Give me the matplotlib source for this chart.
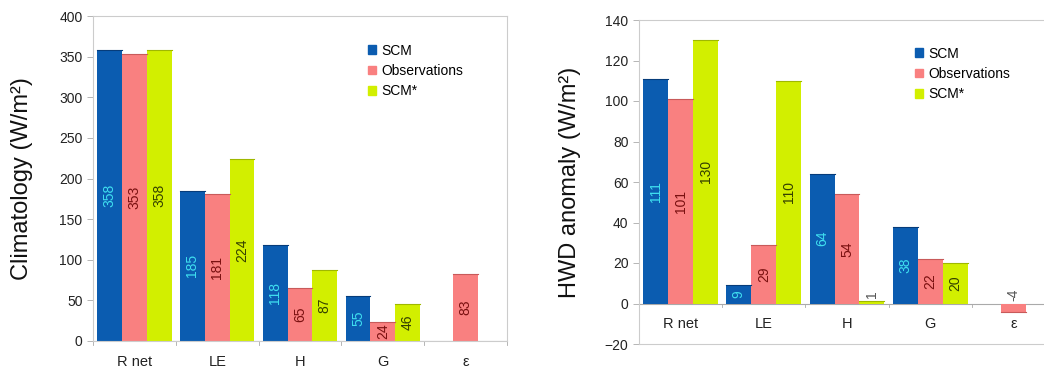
import numpy as np
import matplotlib.pyplot as plt
from matplotlib.patches import Patch

plt.rcParams['font.family'] = ['Liberation Sans', 'DejaVu Sans']

categories = ['R net', 'LE', 'H', 'G', 'ε']
series = ['SCM', 'Observations', 'SCM*']

clim_scm = [358, 185, 118, 55, np.nan]
clim_obs = [353, 181, 65, 24, 83]
clim_star = [358, 224, 87, 46, np.nan]

hwd_scm = [111, 9, 64, 38, np.nan]
hwd_obs = [101, 29, 54, 22, -4]
hwd_star = [130, 110, 1, 20, np.nan]

colors = ['#0b5cb0', '#f98080', '#d2ef00']
label_colors = ['#3fe0f0', '#7a1010', '#344000']
edge_colors = ['#063c7a', '#c85a5a', '#9fb800']

fig = plt.figure(figsize=(10.44, 3.69), dpi=100)
ax1 = fig.add_axes([93/1044, 1-341/369, 414/1044, 325/369])
ax2 = fig.add_axes([639/1044, 1-344/369, 416/1044, 324/369])


def draw(ax, data, ylim, step, ylabel, small):
    x = np.arange(len(categories))
    w = 0.3
    for i, vals in enumerate(data):
        vals = np.array(vals, dtype=float)
        ax.bar(x + (i - 1) * w, vals, w, color=colors[i], linewidth=0)
        for j, v in enumerate(vals):
            if np.isnan(v):
                continue
            # thin darker cap line on top of each bar
            ax.plot([x[j] + (i - 1) * w - w / 2, x[j] + (i - 1) * w + w / 2], [v, v],
                    color=edge_colors[i], lw=0.8)
            ypos = v / 2
            col = label_colors[i]
            if abs(v) < 5:
                ypos = small
                col = '#555555'
            ax.text(x[j] + (i - 1) * w, ypos, '%d' % v, rotation=90, ha='center',
                    va='center', fontsize=10, color=col)
    ax.set_xlim(-0.5, len(categories) - 0.5)
    ax.set_ylim(*ylim)
    ax.set_yticks(np.arange(ylim[0], ylim[1] + 1, step))
    ax.tick_params(axis='y', labelsize=10, colors='#aaaaaa', labelcolor='#222222',
                   length=4, width=0.6)
    ax.set_xticks([])
    for b in np.arange(-0.5, len(categories), 1):
        ax.plot([b, b], [0, -(ylim[1] - ylim[0]) * 0.012], color='#aaaaaa', lw=0.6,
                clip_on=False)
    for k, c in enumerate(categories):
        ax.annotate(c, (k, 0), xytext=(0, -10), textcoords='offset points',
                    ha='center', va='top', fontsize=10.5, color='#222222',
                    annotation_clip=False)
    for s in ax.spines.values():
        s.set_color('#cccccc')
        s.set_linewidth(0.8)
    ax.axhline(0, color='#aaaaaa', lw=0.8, zorder=0.5)
    ax.set_ylabel(ylabel, fontsize=17, color='#111111')
    handles = [Patch(color=colors[i], label=series[i]) for i in range(3)]
    return handles


h = draw(ax1, [clim_scm, clim_obs, clim_star], (0, 400), 50, 'Climatology (W/m²)', 10)
ax1.yaxis.set_label_coords(-0.145, 0.5)
fig.legend(handles=h, loc='upper left', bbox_to_anchor=(362/1044, 1-38/369),
           frameon=False, fontsize=10, handlelength=0.6, handleheight=0.6,
           handletextpad=0.4, labelspacing=0.45, borderaxespad=0)

h = draw(ax2, [hwd_scm, hwd_obs, hwd_star], (-20, 140), 20, 'HWD anomaly (W/m²)', 4.5)
ax2.yaxis.set_label_coords(-0.139, 0.5)
fig.legend(handles=h, loc='upper left', bbox_to_anchor=(909/1044, 1-41/369),
           frameon=False, fontsize=10, handlelength=0.6, handleheight=0.6,
           handletextpad=0.4, labelspacing=0.45, borderaxespad=0)

fig.savefig('out.png', dpi=100)
